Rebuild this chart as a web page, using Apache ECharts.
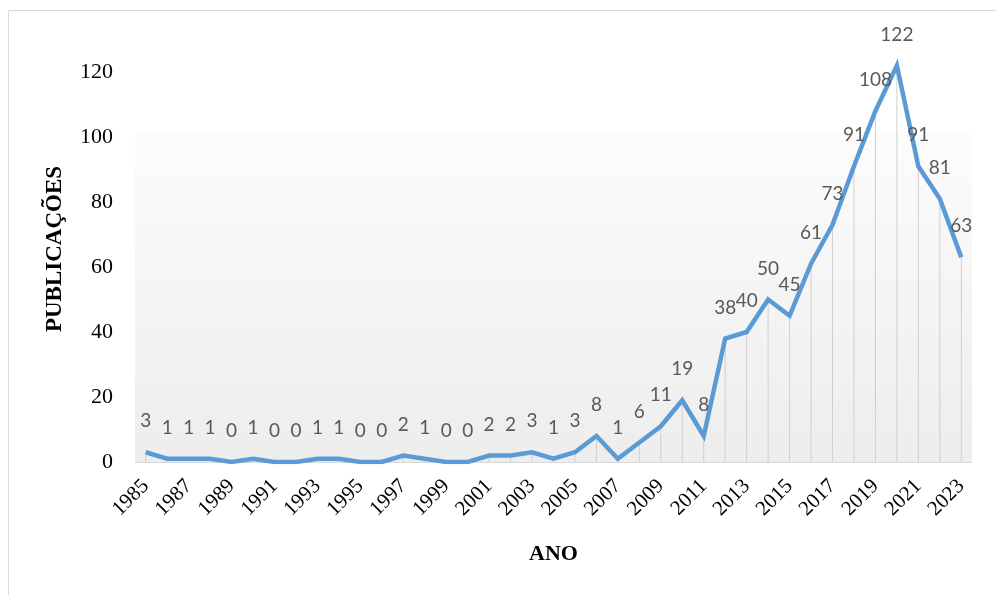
<!DOCTYPE html>
<html>
<head>
<meta charset="utf-8">
<script src="https://cdn.jsdelivr.net/npm/echarts@6/dist/echarts.min.js"></script>
<style>
  html, body { margin: 0; padding: 0; background: #ffffff; }
  #chart { width: 996px; height: 595px; }
</style>
</head>
<body>
<div id="chart"></div>
<script>
// Publicações por ano
var anos = ['1985','1986','1987','1988','1989','1990','1991','1992','1993','1994',
            '1995','1996','1997','1998','1999','2000','2001','2002','2003','2004',
            '2005','2006','2007','2008','2009','2010','2011','2012','2013','2014',
            '2015','2016','2017','2018','2019','2020','2021','2022','2023'];
var publicacoes = [3,1,1,1,0,1,0,0,1,1,
                   0,0,2,1,0,0,2,2,3,1,
                   3,8,1,6,11,19,8,38,40,50,
                   45,61,73,91,108,122,91,81,63];
var yTicks = [0,20,40,60,80,100,120];
var tituloY = 'PUBLICAÇÕES';
var tituloX = 'ANO';

var chart = echarts.init(document.getElementById('chart'), null, { renderer: 'canvas' });

var serif = '"Liberation Serif", "Times New Roman", serif';

chart.setOption({
  animation: false,
  backgroundColor: '#ffffff',
  graphic: [
    {
      // moldura da área do gráfico
      type: 'rect',
      shape: { x: 8.5, y: 10.5, width: 1000, height: 600 },
      style: { fill: 'none', stroke: '#d9d9d9', lineWidth: 1 },
      silent: true,
      z: 100
    },
    {
      // título do eixo vertical
      type: 'text',
      x: 55,
      y: 249,
      rotation: Math.PI / 2,
      style: {
        text: tituloY,
        font: 'bold 23px ' + serif,
        fill: '#000000',
        align: 'center',
        verticalAlign: 'middle'
      },
      silent: true,
      z: 100
    }
  ],
  grid: {
    left: 135, right: 24, top: 7, bottom: 133,
    show: true,
    borderWidth: 0,
    backgroundColor: new echarts.graphic.LinearGradient(0, 0, 0, 1, [
      { offset: 0, color: '#ffffff' },
      { offset: 0.275, color: '#ffffff' },
      { offset: 0.28, color: '#fcfcfc' },
      { offset: 1, color: '#ededed' }
    ])
  },
  xAxis: {
    type: 'category',
    data: anos,
    boundaryGap: true,
    name: tituloX,
    nameLocation: 'middle',
    nameGap: 81,
    nameTextStyle: { fontFamily: serif, fontWeight: 'bold', fontSize: 22, color: '#000000' },
    axisLine: { show: true, lineStyle: { color: '#d9d9d9', width: 1 } },
    axisTick: { show: false },
    axisLabel: {
      interval: 1,
      rotate: 45,
      margin: 21,
      fontFamily: serif,
      fontSize: 21,
      color: '#000000'
    },
    splitLine: { show: false }
  },
  yAxis: {
    type: 'value',
    min: 0,
    max: 140,
    interval: 20,
    axisLine: { show: false },
    axisTick: { show: false },
    splitLine: { show: false },
    axisLabel: {
      margin: 22,
      fontFamily: serif,
      fontSize: 22,
      color: '#000000',
      formatter: function (v) { return yTicks.indexOf(v) >= 0 ? String(v) : ''; }
    }
  },
  series: [
    {
      // linhas verticais de cada ponto até o eixo
      type: 'bar',
      data: publicacoes,
      barWidth: 1,
      itemStyle: { color: '#cfcfcf' },
      silent: true,
      z: 1
    },
    {
      type: 'line',
      data: publicacoes,
      showSymbol: true,
      symbol: 'circle',
      symbolSize: 1,
      itemStyle: { color: 'rgba(0,0,0,0)' },
      lineStyle: { color: '#5b9bd5', width: 4.5, join: 'miter' },
      label: {
        show: true,
        position: 'top',
        distance: 21,
        fontFamily: 'Lato, "Open Sans", sans-serif',
        fontSize: 19,
        color: '#595959'
      },
      labelLayout: { hideOverlap: false },
      z: 3
    }
  ]
});
</script>
</body>
</html>
